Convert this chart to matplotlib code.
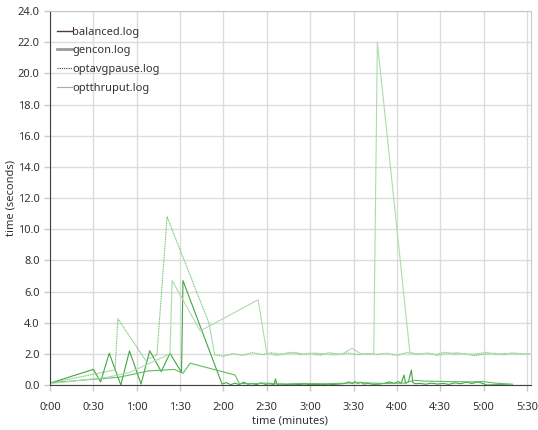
import matplotlib
matplotlib.use("Agg")
import matplotlib.pyplot as plt
from matplotlib.lines import Line2D
from matplotlib.ticker import FixedLocator, FuncFormatter

plt.rcParams['font.family'] = ['Noto Sans', 'DejaVu Sans']

# ---------------------------------------------------------------
# data (time in seconds, pause time in seconds)
# ---------------------------------------------------------------
labels = ["balanced.log", "gencon.log", "optavgpause.log", "optthruput.log"]

# zig-zag series, then dark noise near zero
t_a = [1, 30, 35, 41, 49, 55, 63, 69, 77, 83, 91, 92, 119,
       122, 125, 128, 131, 134, 137, 140, 143, 146, 149, 152, 155, 156, 157,
       160, 164, 168, 172, 176, 180, 184, 188, 192, 196, 200, 204, 207, 209,
       211, 213, 215, 217, 220, 224, 228, 232, 235, 238, 241, 243, 245, 246,
       248, 250, 251, 253, 256, 260, 264, 268, 272, 276, 280, 284, 288, 292,
       296, 300, 302, 312, 318]
v_a = [0.15, 1.0, 0.2, 2.04, 0.0, 2.19, 0.06, 2.2, 0.86, 2.04, 0.8, 6.7, 0.06,
       0.15, 0.02, 0.12, 0.03, 0.18, 0.05, 0.10, 0.02, 0.14, 0.04, 0.08, 0.03, 0.39, 0.04,
       0.06, 0.02, 0.05, 0.03, 0.06, 0.02, 0.04, 0.02, 0.05, 0.03, 0.06, 0.10, 0.20, 0.08,
       0.22, 0.10, 0.18, 0.06, 0.10, 0.04, 0.06, 0.12, 0.20, 0.10, 0.22, 0.12, 0.64, 0.10,
       0.20, 0.96, 0.15, 0.08, 0.10, 0.05, 0.12, 0.06, 0.10, 0.04, 0.14, 0.08, 0.18, 0.10,
       0.20, 0.08, 0.0, 0.02, 0.0]

# low hump series
t_b = [1, 48, 68, 86, 92, 97, 128, 131, 140, 150, 160, 175, 190, 205, 215,
       230, 245, 252, 260, 275, 290, 300, 308, 320]
v_b = [0.15, 0.5, 0.9, 1.0, 0.75, 1.4, 0.64, 0.1, 0.08, 0.12, 0.06, 0.10, 0.08, 0.12, 0.15,
       0.10, 0.12, 0.30, 0.25, 0.22, 0.20, 0.22, 0.12, 0.05]

# dotted series with the 10.8 s pause
t_c = [1, 45, 47, 66, 74, 81, 110,
       114, 120, 127, 133, 140, 147, 153, 160, 167, 173,
       180, 187, 193, 200, 207, 213, 220, 227, 233, 240,
       247, 253, 260, 267, 273, 280, 287, 293, 300, 307,
       313, 320, 327, 332]
v_c = [0.15, 0.97, 4.25, 1.6, 1.93, 10.79, 3.97,
       1.93, 1.85, 2.02, 1.90, 2.08, 1.95, 2.06, 1.98, 2.10, 1.96,
       2.04, 1.92, 2.07, 1.98, 2.05, 1.95, 2.02, 1.97, 2.04, 1.90,
       2.08, 1.98, 2.03, 1.96, 2.10, 1.98, 2.02, 1.88, 1.98, 2.04,
       1.95, 2.06, 2.00, 2.02]

# light series with the 22 s pause
t_d = [1, 40, 55, 83, 84.5, 104, 144, 150, 157, 163, 170, 177, 183, 190,
       197, 203, 209, 215, 220, 224, 226.5, 249, 255, 262, 268, 275, 282,
       288, 295, 302, 308, 315, 322, 332]
v_d = [0.1, 0.5, 0.8, 2.0, 6.7, 3.47, 5.47, 2.04, 1.90, 2.00, 2.08, 1.95, 2.05, 2.00,
       1.93, 2.03, 2.36, 2.00, 1.96, 2.04, 22.0, 2.08, 1.98, 2.05, 1.90, 2.02, 2.07,
       1.96, 2.00, 2.10, 1.95, 2.03, 1.98, 2.00]

x_ticks = [0, 30, 60, 90, 120, 150, 180, 210, 240, 270, 300, 330]
y_ticks = [0, 2, 4, 6, 8, 10, 12, 14, 16, 18, 20, 22, 24]

# ---------------------------------------------------------------
# figure
# ---------------------------------------------------------------
fig = plt.figure(figsize=(5.38, 4.30), dpi=100)
ax = fig.add_axes([50 / 538, 45 / 430, 481 / 538, 374 / 430])

ax.plot(t_a, v_a, color="#42a642", lw=0.8)
ax.plot(t_b, v_b, color="#62bb62", lw=0.8)
ax.plot(t_c, v_c, color="#72c672", lw=0.8, ls=(0, (1, 0.6)))
ax.plot(t_d, v_d, color="#acdcac", lw=0.8)

ax.set_xlim(0, 332.8)
ax.set_ylim(0, 24)
ax.xaxis.set_major_locator(FixedLocator(x_ticks))
ax.yaxis.set_major_locator(FixedLocator(y_ticks))
ax.xaxis.set_major_formatter(FuncFormatter(lambda s, p: f"{int(s) // 60}:{int(s) % 60:02d}"))
ax.yaxis.set_major_formatter(FuncFormatter(lambda v, p: f"{v:.1f}"))

ax.grid(True, color="#dcdcdc", lw=1.0)
ax.set_axisbelow(True)
for side in ("top", "right"):
    ax.spines[side].set_color("#c8c8c8")
for side in ("left", "bottom"):
    ax.spines[side].set_color("#404040")
ax.tick_params(axis="both", labelsize=8, colors="#c8c8c8", labelcolor="#333333",
               length=4, width=1)
ax.tick_params(axis="x", pad=8)

ax.set_xlabel("time (minutes)", fontsize=8, color="#333333", labelpad=2)
ax.set_ylabel("time (seconds)", fontsize=8, color="#333333", labelpad=1)

handles = [Line2D([], [], color="#5a3a2e", lw=1.0),
           Line2D([], [], color="#9a9a9a", lw=2.0),
           Line2D([], [], color="#444444", lw=0.8, ls=(0, (1, 1))),
           Line2D([], [], color="#aaaaaa", lw=0.8)]
ax.legend(handles, labels, loc="upper left", bbox_to_anchor=(-0.006, 0.985),
          frameon=False, fontsize=8, handlelength=1.3, handletextpad=0.05,
          labelspacing=0.7, labelcolor="#333333")

fig.savefig("out.png", dpi=100)
